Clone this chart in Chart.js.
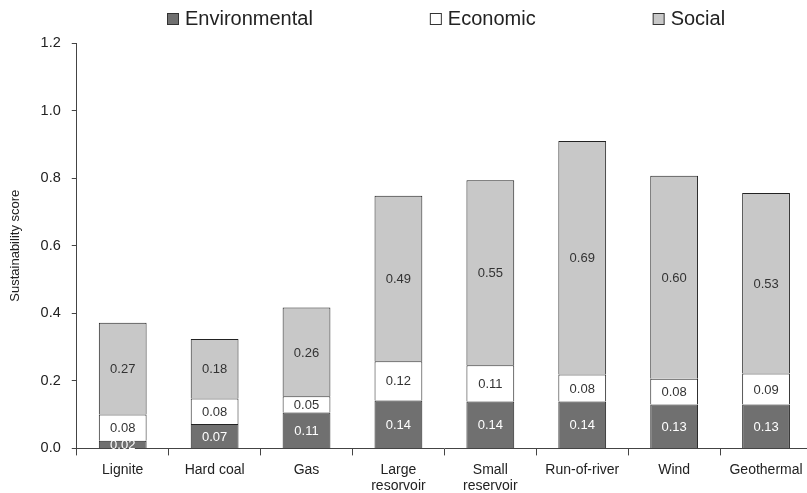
<!DOCTYPE html>
<html>
<head>
<meta charset="utf-8">
<script src="https://cdn.jsdelivr.net/npm/chart.js@4/dist/chart.umd.min.js"></script>
<style>
  html, body { margin: 0; padding: 0; background: #fff; overflow: hidden; }
  #wrap { width: 815px; height: 505px; }
</style>
</head>
<body>
<div id="wrap"><canvas id="chart"></canvas></div>
<script>
var categories = ['Lignite', 'Hard coal', 'Gas', ['Large', 'resorvoir'], ['Small', 'reservoir'], 'Run-of-river', 'Wind', 'Geothermal'];
var environmental = [0.023, 0.072, 0.106, 0.142, 0.139, 0.139, 0.130, 0.130];
var economic = [0.077, 0.076, 0.048, 0.116, 0.107, 0.080, 0.076, 0.092];
var social = [0.272, 0.176, 0.263, 0.490, 0.548, 0.691, 0.601, 0.534];
var yTicks = [0, 0.2, 0.4, 0.6, 0.8, 1.0, 1.2];

var fontFamily = '"Liberation Sans", Arial, sans-serif';

// value in the middle of every bar segment
var barLabels = {
    id: 'barLabels',
    afterDatasetsDraw: function (chart) {
        var ctx = chart.ctx;
        ctx.save();
        ctx.font = '13px ' + fontFamily;
        ctx.textAlign = 'center';
        ctx.textBaseline = 'middle';
        chart.data.datasets.forEach(function (ds, i) {
            var meta = chart.getDatasetMeta(i);
            meta.data.forEach(function (bar, j) {
                var mid = (bar.y + bar.base) / 2;
                ctx.fillStyle = i === 0 ? '#ffffff' : '#333333';
                ctx.fillText(ds.data[j].toFixed(2), bar.x, mid + 1);
            });
        });
        ctx.restore();
    }
};

// legend drawn by hand so the items can sit far apart on one row
var wideLegend = {
    id: 'wideLegend',
    afterDraw: function (chart) {
        var ctx = chart.ctx;
        var x = 167, y = 13, box = 11, gap = 117;
        ctx.save();
        ctx.font = '20px ' + fontFamily;
        ctx.textBaseline = 'middle';
        chart.data.datasets.forEach(function (ds) {
            ctx.fillStyle = ds.backgroundColor;
            ctx.fillRect(x + 0.5, y + 0.5, box, box);
            ctx.strokeStyle = '#333';
            ctx.lineWidth = 1;
            ctx.strokeRect(x + 0.5, y + 0.5, box, box);
            ctx.fillStyle = '#222';
            ctx.fillText(ds.label, x + box + 7, y + box / 2 + 1);
            x += box + 7 + ctx.measureText(ds.label).width + gap;
        });
        ctx.restore();
    }
};

var ctx = document.getElementById('chart').getContext('2d');
var chart = new Chart(ctx, {
    type: 'bar',
    data: {
        labels: categories,
        datasets: [{
            label: 'Environmental',
            data: environmental,
            backgroundColor: '#707070',
            borderColor: '#222222',
            borderWidth: 1
        }, {
            label: 'Economic',
            data: economic,
            backgroundColor: '#ffffff',
            borderColor: '#222222',
            borderWidth: 1
        }, {
            label: 'Social',
            data: social,
            backgroundColor: '#c8c8c8',
            borderColor: '#222222',
            borderWidth: 1
        }]
    },
    options: {
        responsive: true,
        maintainAspectRatio: false,
        animation: false,
        layout: { padding: { left: 8, right: 3, top: 43, bottom: 4 } },
        datasets: { bar: { categoryPercentage: 1, barPercentage: 0.52 } },
        plugins: {
            legend: { display: false },
            tooltip: { enabled: false }
        },
        scales: {
            x: {
                stacked: true,
                grid: { drawOnChartArea: false, color: '#444', tickLength: 7, offset: true },
                border: { color: '#444' },
                ticks: { color: '#222', font: { family: fontFamily, size: 14 }, padding: 6, maxRotation: 0, autoSkip: false }
            },
            y: {
                stacked: true,
                min: 0,
                max: 1.2,
                afterBuildTicks: function (axis) {
                    axis.ticks = yTicks.map(function (v) { return { value: v }; });
                },
                grid: { drawOnChartArea: false, color: '#444', tickLength: 5 },
                border: { color: '#444' },
                ticks: {
                    color: '#222',
                    font: { family: fontFamily, size: 14.5 },
                    padding: 11,
                    callback: function (v) { return Number(v).toFixed(1); }
                },
                title: {
                    display: true,
                    text: 'Sustainability score',
                    color: '#222',
                    font: { family: fontFamily, size: 13 },
                    padding: { top: 0, bottom: 6 }
                }
            }
        }
    },
    plugins: [barLabels, wideLegend]
});
</script>
</body>
</html>
